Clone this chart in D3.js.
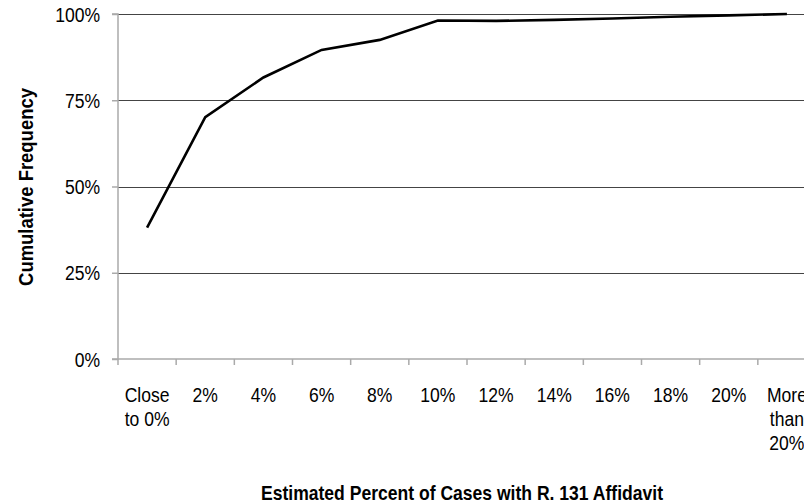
<!DOCTYPE html>
<html>
<head>
<meta charset="utf-8">
<script src="https://cdn.jsdelivr.net/npm/d3@7"></script>
<style>
  html, body { margin: 0; padding: 0; background: #fff; }
  svg { display: block; font-family: "Liberation Sans", Arial, sans-serif; }
</style>
</head>
<body>
<svg id="chart" width="804" height="504"></svg>
<script>
const categories = ["Close to 0%", "2%", "4%", "6%", "8%", "10%", "12%", "14%", "16%", "18%", "20%", "More than 20%"];
const categoryLines = [["Close", "to 0%"], ["2%"], ["4%"], ["6%"], ["8%"], ["10%"], ["12%"], ["14%"], ["16%"], ["18%"], ["20%"], ["More", "than", "20%"]];
const cumulative = [0.381, 0.701, 0.816, 0.896, 0.925, 0.981, 0.980, 0.983, 0.987, 0.992, 0.996, 1.0];
const yTicks = [0, 0.25, 0.5, 0.75, 1.0];
const yTickLabels = ["0%", "25%", "50%", "75%", "100%"];

(function () {
const svg = d3.select("#chart");
const pLeft = 118, pRight = 816, pTop = 14, pBottom = 359;
const sx = 0.9; // horizontal text compression seen in the reference
const tickFont = 19.5;

const x = d3.scaleBand().domain(categories).range([pLeft, pRight]).padding(0);
const y = d3.scaleLinear().domain([0, 1]).range([pBottom, pTop]);

// gridlines
svg.append("g").selectAll("line").data(yTicks.filter(d => d > 0)).join("line")
  .attr("x1", pLeft).attr("x2", 804)
  .attr("y1", d => Math.round(y(d)) + 0.5).attr("y2", d => Math.round(y(d)) + 0.5)
  .attr("stroke", "#444").attr("stroke-width", 1);

// y axis
const yAxis = d3.axisLeft(y).tickValues(yTicks).tickSize(6).tickFormat((d, i) => yTickLabels[i]);
const gy = svg.append("g").attr("transform", `translate(${pLeft},0)`).call(yAxis);
gy.select(".domain").attr("stroke", "#aaa").attr("stroke-width", 1.5).attr("d", `M-6,${pBottom}H0V${pTop}H-6`);
gy.selectAll(".tick line").attr("stroke", "#aaa").attr("stroke-width", 1.5);
gy.selectAll(".tick text").attr("font-size", tickFont).attr("fill", "#000")
  .attr("x", -18 / sx).attr("dy", "0.36em").attr("transform", `scale(${sx},1)`)
  .attr("font-family", "Liberation Sans, Arial, sans-serif");

// x axis baseline and ticks at band boundaries
const gx = svg.append("g");
gx.append("line").attr("x1", pLeft).attr("x2", 804).attr("y1", pBottom).attr("y2", pBottom)
  .attr("stroke", "#aaa").attr("stroke-width", 1.5);
const bounds = categories.map(c => x(c)).concat([x(categories[categories.length - 1]) + x.bandwidth()]);
gx.selectAll("line.tk").data(bounds).join("line").attr("class", "tk")
  .attr("x1", d => d).attr("x2", d => d)
  .attr("y1", pBottom).attr("y2", pBottom + 6).attr("stroke", "#aaa").attr("stroke-width", 1.5);

// x labels
const lab = gx.selectAll("text.xl").data(categories).join("text").attr("class", "xl")
  .attr("text-anchor", "middle").attr("font-size", tickFont).attr("fill", "#000")
  .attr("transform", d => `translate(${x(d) + x.bandwidth() / 2},402) scale(${sx},1)`);
lab.each(function(d, i) {
  const t = d3.select(this);
  categoryLines[i].forEach((ln, j) => {
    t.append("tspan").attr("x", 0).attr("dy", j === 0 ? 0 : 24).text(ln);
  });
});

// line
const line = d3.line().x(d => x(d.c) + x.bandwidth() / 2).y(d => y(d.v));
svg.append("path").datum(categories.map((c, i) => ({c, v: cumulative[i]})))
  .attr("d", line).attr("fill", "none").attr("stroke", "#000").attr("stroke-width", 2.6)
  .attr("stroke-linejoin", "miter");

// axis titles
svg.append("text").attr("transform", `translate(${(pLeft + 804) / 2 + 1},500) scale(${sx},1)`)
  .attr("text-anchor", "middle")
  .attr("font-size", 19.5).attr("font-weight", "bold").text("Estimated Percent of Cases with R. 131 Affidavit");
svg.append("text").attr("transform", `translate(33,187) rotate(-90) scale(${sx},1)`).attr("text-anchor", "middle")
  .attr("font-size", 20.5).attr("font-weight", "bold").text("Cumulative Frequency");
})();
</script>
</body>
</html>
